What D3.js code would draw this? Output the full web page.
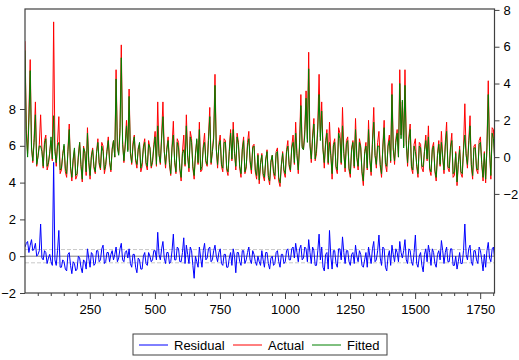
<!DOCTYPE html>
<html>
<head>
<meta charset="utf-8">
<script src="https://cdn.jsdelivr.net/npm/d3@7"></script>
<style>
  body { margin: 0; background: #fff; }
  svg { display: block; font-family: "Liberation Sans", Arial, sans-serif; }
</style>
</head>
<body>
<svg id="chart" width="519" height="360"></svg>
<script>
const obsStep = 5;
const actual = [
  6.3, 1.5, 0.2, 2.4, 5.3, 0.6, -0.3, 1.0, 3.0, -0.5,
  0.1, 0.7, 2.3, 0.4, -0.6, 0.9, 1.2, -0.7, -0.4, 0.3,
  0.9, -0.2, 7.35, 0.5, -0.5, 0.8, 2.2, -0.9, -0.7, 0.2,
  0.6, -0.8, -1.1, 0.4, 1.8, -0.6, -1.3, -0.2, 0.4, -1.2,
  -1.0, 0.1, 0.8, -0.5, -1.35, 0.6, 0.2, -1.0, 1.6, -0.3,
  -1.2, 0.1, 0.5, -0.6, -0.9, 0.3, 1.0, -0.4, -0.7, 0.8,
  0.6, -0.9, -0.5, 0.4, 1.1, -0.3, -0.8, 0.5, 0.9, 0.0,
  4.75, 0.6, 0.2, 1.6, 6.1, 0.9, -0.3, 0.7, 2.0, 0.4,
  3.7, 0.3, -0.4, 0.8, 1.2, -0.2, -0.6, 0.5, 0.7, -0.8,
  -0.5, 0.6, 1.0, -0.4, -0.7, 0.9, 0.5, -0.6, -0.3, 0.7,
  1.4, -0.5, 3.0, 0.2, -0.4, 1.2, 3.0, 0.4, -0.6, 0.5,
  1.1, -0.4, -1.0, 0.6, 1.95, -0.3, -0.9, 1.0, 0.8, -0.7,
  -1.3, 0.3, 1.2, -0.5, 2.3, 0.1, -0.8, 1.4, 1.0, -0.6,
  -1.2, 0.2, 0.9, -0.4, 1.9, -0.8, -0.7, 0.6, 1.3, -0.3,
  -0.5, 1.1, 2.7, -0.4, 0.3, 1.2, 4.5, 0.5, -0.6, 0.7,
  1.2, -0.5, -0.8, 1.0, 0.9, -0.7, -1.0, 0.4, 1.5, -0.2,
  1.9, 0.3, -0.7, 1.3, 0.8, -0.6, -1.1, 0.5, 1.1, -0.9,
  -0.6, 0.8, 1.4, -0.3, -0.9, 0.6, 0.7, -0.8, -1.2, 0.2,
  -1.45, -0.4, 0.2, -1.0, -1.3, -0.2, 0.4, -1.1, -1.5, -0.3,
  0.1, -0.9, -1.2, 0.3, 0.5, -1.3, -1.6, -0.5, 0.3, -0.8,
  -1.1, 0.4, 0.9, -0.5, -0.8, 0.6, 1.2, -0.4, 1.9, 0.2,
  -0.9, 0.8, 3.4, 0.6, 0.4, 1.5, 3.6, 1.0, 5.7, 0.8,
  -0.3, 1.2, 2.1, -0.2, 0.2, 1.8, 4.5, 1.1, 3.0, 0.5,
  -0.6, 0.9, 1.5, -0.4, 1.9, 0.2, -1.2, 0.7, 1.0, -0.6,
  -0.9, 1.6, 1.3, -0.4, 2.7, 0.3, -0.8, 0.9, 1.1, -0.7,
  -1.1, 0.5, 0.9, -0.6, 2.1, 0.0, -0.7, 1.0, 0.6, -0.9,
  -1.55, 0.3, 0.8, -0.7, 2.0, -0.2, -1.0, 0.9, 2.7, 0.1,
  -0.6, 0.8, 1.4, -0.5, -1.1, 0.6, 2.0, -0.4, -0.8, 0.7,
  1.2, -0.3, 4.0, 0.5, -0.4, 1.0, 1.5, 0.0, 4.75, 1.2,
  3.0, 0.6, 4.75, 0.9, -0.5, 1.1, 1.8, -0.6, -0.9, 0.7,
  1.0, -0.5, -1.1, 0.8, 0.7, -0.6, -0.8, 0.4, 1.2, -0.2,
  1.7, -0.7, -1.0, 0.5, 0.8, -0.8, -1.3, 0.2, 0.9, -0.5,
  1.4, 0.0, -0.9, 0.8, 1.9, -0.6, -0.8, 0.6, 1.3, -1.1,
  -1.0, 0.3, -1.55, -0.4, 0.6, -0.9, -1.1, 0.5, 2.9, 0.2,
  -0.6, 0.9, 2.25, -0.5, -1.2, 0.6, 0.7, -0.7, -0.9, 0.9,
  1.1, -0.4, -1.3, 0.3, -1.4, 0.6, 4.15, 0.4, -1.2, 1.6,
  1.5, -0.3, 0.5
];
const fitted = [
  5.8, 1.3, 0.0, 1.9, 4.7, 0.5, -0.2, 0.8, 2.3, -0.4,
  0.0, 0.6, 0.6, 0.3, -0.5, 0.7, 1.0, -0.5, -0.3, 0.2,
  1.1, -0.1, 2.25, 0.3, -0.3, 0.6, 0.8, -0.7, -0.6, 0.1,
  0.7, -0.6, -0.9, 0.3, 1.5, -0.5, -1.1, -0.1, 0.5, -1.0,
  -0.9, 0.0, 0.8, -0.4, -1.2, 0.5, 0.3, -0.8, 1.3, -0.2,
  -1.0, 0.0, 0.4, -0.5, -0.8, 0.2, 0.8, -0.3, -0.6, 0.6,
  0.3, -0.7, -0.4, 0.3, 0.9, -0.2, -0.7, 0.4, 0.9, 0.0,
  4.25, 0.5, 0.1, 1.3, 5.4, 0.7, -0.2, 0.6, 1.7, 0.3,
  3.3, 0.2, -0.3, 0.6, 1.1, -0.1, -0.4, 0.4, 0.8, -0.6,
  -0.3, 0.5, 0.8, -0.3, -0.5, 0.7, 0.5, -0.5, -0.2, 0.5,
  1.1, -0.4, 1.7, 0.1, -0.3, 1.0, 2.2, 0.3, -0.4, 0.4,
  0.9, -0.3, -0.9, 0.5, 1.2, -0.2, -0.8, 0.8, 0.5, -0.6,
  -1.1, 0.2, 0.4, -0.4, 1.7, 0.0, -0.6, 1.1, 0.8, -0.5,
  -1.0, 0.1, 1.0, -0.3, 1.5, -0.7, -0.5, 0.5, 0.8, -0.2,
  -0.4, 0.9, 2.2, -0.3, 0.3, 1.0, 3.9, 0.4, -0.4, 0.6,
  0.9, -0.4, -0.6, 0.8, 0.8, -0.6, -0.8, 0.3, 1.3, -0.1,
  1.5, 0.2, -0.5, 1.1, 0.7, -0.5, -0.9, 0.4, 0.9, -0.8,
  -0.5, 0.6, 1.0, -0.2, -0.7, 0.5, 0.6, -0.7, -1.0, 0.1,
  -1.25, -0.3, 0.1, -0.9, -1.1, -0.1, 0.3, -1.0, -1.3, -0.2,
  0.1, -0.8, -1.0, 0.2, 0.3, -1.1, -1.4, -0.4, 0.2, -0.7,
  -0.9, 0.3, 0.6, -0.4, -0.7, 0.5, 0.8, -0.3, 1.3, 0.1,
  -0.7, 0.6, 2.8, 0.5, 0.4, 1.2, 3.2, 0.8, 4.8, 0.6,
  -0.1, 1.0, 1.8, -0.1, 0.4, 1.5, 3.4, 0.9, 2.5, 0.4,
  -0.3, 0.7, 1.3, -0.3, 0.8, 0.1, -0.9, 0.6, 0.8, -0.5,
  -0.7, 1.3, 1.0, -0.3, 1.7, 0.2, -0.6, 0.7, 0.9, -0.6,
  -0.9, 0.4, 0.8, -0.5, 1.5, 0.0, -0.5, 0.8, 0.5, -0.8,
  -1.3, 0.2, 0.6, -0.6, 1.5, -0.1, -0.8, 0.7, 1.9, 0.1,
  -0.4, 0.6, 0.6, -0.4, -0.9, 0.5, 1.6, -0.3, -0.5, 0.6,
  0.9, -0.2, 3.4, 0.4, -0.2, 0.8, 1.3, 0.0, 4.0, 1.0,
  3.1, 0.5, 3.9, 0.7, -0.3, 0.9, 1.5, -0.5, -0.7, 0.6,
  0.3, -0.4, -0.9, 0.6, 0.5, -0.5, -0.5, 0.3, 0.9, -0.1,
  1.1, -0.6, -0.8, 0.4, 0.6, -0.7, -1.1, 0.1, 0.7, -0.4,
  0.8, 0.0, -0.7, 0.6, 1.4, -0.5, -0.6, 0.5, 0.9, -0.9,
  -0.8, 0.2, -1.35, -0.3, 0.4, -0.8, -0.9, 0.4, 1.2, 0.1,
  -0.4, 0.7, 1.7, -0.4, -1.0, 0.5, 0.5, -0.6, -0.7, 0.7,
  0.8, -0.3, -1.1, 0.2, -1.2, 0.5, 3.4, 0.3, -1.0, 1.3,
  1.0, -0.2, 0.3
];
const residual = [
  0.5, 0.7, 0.8, 0.2, 0.6, 0.9, 0.3, 0.4, 0.7, 0.0,
  0.1, 0.3, 1.75, -0.1, -0.2, 0.3, 0.2, -0.4, -0.1, 0.1,
  -0.3, -0.5, 5.1, -0.2, -0.5, 0.3, 1.4, -0.6, -0.6, -0.2,
  -0.3, -0.7, -0.8, 0.1, 0.2, -0.5, -0.95, -0.3, -0.4, -0.8,
  -0.7, 0.0, -0.1, -0.6, -0.9, -0.2, -0.3, -0.7, 0.4, -0.1,
  -0.6, 0.2, 0.1, -0.5, -0.4, 0.3, 0.3, -0.3, -0.2, 0.4,
  0.6, -0.4, -0.3, 0.2, 0.2, -0.3, 0.1, 0.3, -0.2, 0.1,
  0.5, -0.3, -0.1, 0.4, 0.7, -0.2, -0.3, 0.2, 0.3, -0.1,
  0.4, -0.4, -0.6, 0.1, 0.1, -0.6, -0.9, -0.1, -0.2, -0.7,
  -0.7, 0.0, 0.2, -0.4, -0.5, 0.2, 0.0, -0.3, -0.2, 0.3,
  0.3, -0.2, 1.3, 0.1, -0.2, 0.4, 0.8, -0.1, -0.4, 0.2,
  0.2, -0.4, -0.3, 0.3, 1.2, -0.2, -0.2, 0.5, 0.4, -0.3,
  -0.3, 0.2, 1.0, -0.4, 0.6, 0.1, -0.4, 0.5, 0.3, -0.5,
  -1.2, 0.0, -0.3, -0.6, 0.5, -0.1, -0.6, 0.3, 0.7, -0.2,
  -0.1, 0.4, 0.5, -0.3, -0.2, 0.3, 0.6, 0.0, -0.3, 0.2,
  0.4, -0.4, -0.5, 0.1, 0.1, -0.6, -0.6, -0.1, 0.2, -0.5,
  0.4, 0.0, -0.9, 0.2, 0.2, -0.3, -0.5, 0.3, 0.3, -0.4,
  -0.2, 0.2, 0.5, -0.2, -0.4, 0.3, 0.1, -0.3, -0.5, 0.0,
  -0.3, -0.5, 0.3, -0.2, -0.6, 0.2, 0.2, -0.4, -0.7, -0.1,
  0.0, -0.5, -0.4, 0.2, 0.3, -0.3, -0.6, 0.1, 0.1, -0.4,
  -0.3, 0.3, 0.4, -0.2, -0.2, 0.4, 0.5, -0.1, 0.7, 0.2,
  -0.3, 0.4, 0.6, -0.2, -0.1, 0.5, 0.4, -0.3, 0.9, 0.2,
  -0.4, 0.5, 0.3, -0.5, -0.5, 0.3, 1.2, -0.2, 0.5, -0.6,
  -0.8, 0.1, 0.2, -0.7, 1.4, 0.0, -0.7, 0.3, 0.3, -0.4,
  -0.6, 0.4, 0.4, -0.2, 1.05, 0.2, -0.4, 0.3, 0.3, -0.3,
  -0.5, 0.1, 0.2, -0.4, 0.6, 0.0, -0.3, 0.3, 0.1, -0.5,
  -0.6, -0.2, 0.2, -0.6, 0.5, 0.0, -0.4, 0.4, 0.8, -0.3,
  -0.2, 0.3, 1.15, -0.1, -0.5, 0.5, 0.4, -0.6, -0.8, 0.0,
  0.3, -0.5, 0.6, 0.1, -0.3, 0.4, 0.2, -0.3, 0.8, 0.2,
  -0.1, 0.3, 0.9, -0.2, -0.4, 0.4, 0.3, -0.3, -0.5, 0.2,
  1.15, -0.4, -0.6, 0.0, 0.2, -0.5, -0.85, 0.1, 0.4, -0.3,
  0.6, 0.2, -0.5, 0.4, 0.2, -0.4, -0.6, 0.1, 0.3, -0.2,
  0.85, 0.3, -0.4, 0.2, 0.5, -0.3, -0.3, 0.4, 0.4, -0.5,
  -0.5, 0.0, -0.7, -0.3, 0.2, -0.4, -0.4, 0.3, 1.75, 0.1,
  -0.2, 0.4, 0.6, -0.3, -0.5, 0.3, 0.3, -0.2, -0.4, 0.5,
  0.3, -0.2, -0.8, 0.1, -0.6, 0.3, 0.75, -0.1, -0.3, 0.4,
  0.5, -0.2, 0.2
];
const residualBands = [-0.36, 0.36];
const leftTicks = [-2, 0, 2, 4, 6, 8];
const rightTicks = [-2, 0, 2, 4, 6, 8];
const xMajorTicks = [250, 500, 750, 1000, 1250, 1500, 1750];
const seriesNames = ["Residual", "Actual", "Fitted"];
const seriesColors = ["#0000ff", "#ff0000", "#008000"];

const svg = d3.select("#chart");
const plotLeft = 25, plotRight = 494.5, plotTop = 9, plotBottom = 293;

const x = d3.scaleLinear().domain([1, 1805]).range([plotLeft, plotRight]);
const yLeft = d3.scaleLinear()
  .domain([-2, -2 + (plotBottom - plotTop) / 18.4])
  .range([plotBottom, plotTop]);
const yRight = d3.scaleLinear()
  .domain([8.05 - (plotBottom - plotTop) / 18.4, 8.05])
  .range([plotBottom, plotTop]);

svg.append("defs").append("clipPath").attr("id", "plotclip")
  .append("rect")
    .attr("x", plotLeft).attr("y", plotTop)
    .attr("width", plotRight - plotLeft).attr("height", plotBottom - plotTop);

const plot = svg.append("g").attr("clip-path", "url(#plotclip)");

// zero line and +/- std band of the residual
plot.append("line")
  .attr("x1", plotLeft).attr("x2", plotRight)
  .attr("y1", yLeft(0)).attr("y2", yLeft(0))
  .attr("stroke", "#808080").attr("stroke-width", 1);
plot.selectAll(".band")
  .data(residualBands)
  .join("line")
    .attr("class", "band")
    .attr("x1", plotLeft).attr("x2", plotRight)
    .attr("y1", d => yLeft(d)).attr("y2", d => yLeft(d))
    .attr("stroke", "#c8c8c8")
    .attr("stroke-dasharray", "4,2");

function series(vals, yScale) {
  return d3.line()
    .x((d, i) => x(1 + i * obsStep))
    .y(d => yScale(d))(vals);
}

plot.append("path")
  .attr("d", series(residual, yLeft))
  .attr("fill", "none").attr("stroke", seriesColors[0]).attr("stroke-width", 1);
plot.append("path")
  .attr("d", series(actual, yRight))
  .attr("fill", "none").attr("stroke", seriesColors[1]).attr("stroke-width", 1);
plot.append("path")
  .attr("d", series(fitted, yRight))
  .attr("fill", "none").attr("stroke", seriesColors[2]).attr("stroke-width", 1);

// frame
svg.append("rect")
  .attr("x", plotLeft).attr("y", plotTop)
  .attr("width", plotRight - plotLeft).attr("height", plotBottom - plotTop)
  .attr("fill", "none").attr("stroke", "#404040").attr("stroke-width", 1.2);

function styleAxis(g) {
  g.select(".domain").remove();
  g.selectAll(".tick line").attr("stroke", "#404040");
  g.selectAll("text").attr("fill", "#000").style("font-size", "13px")
    .style("font-family", "'Liberation Sans', Arial, sans-serif");
}

svg.append("g")
  .attr("transform", `translate(${plotLeft},0)`)
  .call(d3.axisLeft(yLeft).tickValues(leftTicks).tickSize(5).tickPadding(4))
  .call(styleAxis);

svg.append("g")
  .attr("transform", `translate(${plotRight},0)`)
  .call(d3.axisRight(yRight).tickValues(rightTicks).tickSize(5).tickPadding(4))
  .call(styleAxis);

svg.append("g")
  .attr("transform", `translate(0,${plotBottom})`)
  .call(d3.axisBottom(x).tickValues(d3.range(50, 1801, 50).filter(v => v % 250 != 0))
    .tickSize(3).tickFormat(""))
  .call(styleAxis);

svg.append("g")
  .attr("transform", `translate(0,${plotBottom})`)
  .call(d3.axisBottom(x).tickValues(xMajorTicks).tickSize(6).tickPadding(6)
    .tickFormat(d3.format("d")))
  .call(styleAxis);

// legend
const legend = svg.append("g").attr("transform", "translate(133,334)");
legend.append("rect")
  .attr("width", 254).attr("height", 21)
  .attr("fill", "#fff").attr("stroke", "#404040").attr("stroke-width", 1);
const itemX = [6, 100, 179];
seriesNames.forEach((name, i) => {
  const g = legend.append("g").attr("transform", `translate(${itemX[i]},11)`);
  g.append("line").attr("x1", 0).attr("x2", 29).attr("y1", 0).attr("y2", 0)
    .attr("stroke", seriesColors[i]).attr("stroke-width", 1);
  g.append("text").attr("x", 35).attr("y", 4.5)
    .style("font-size", "13px").text(name);
});
</script>
</body>
</html>
